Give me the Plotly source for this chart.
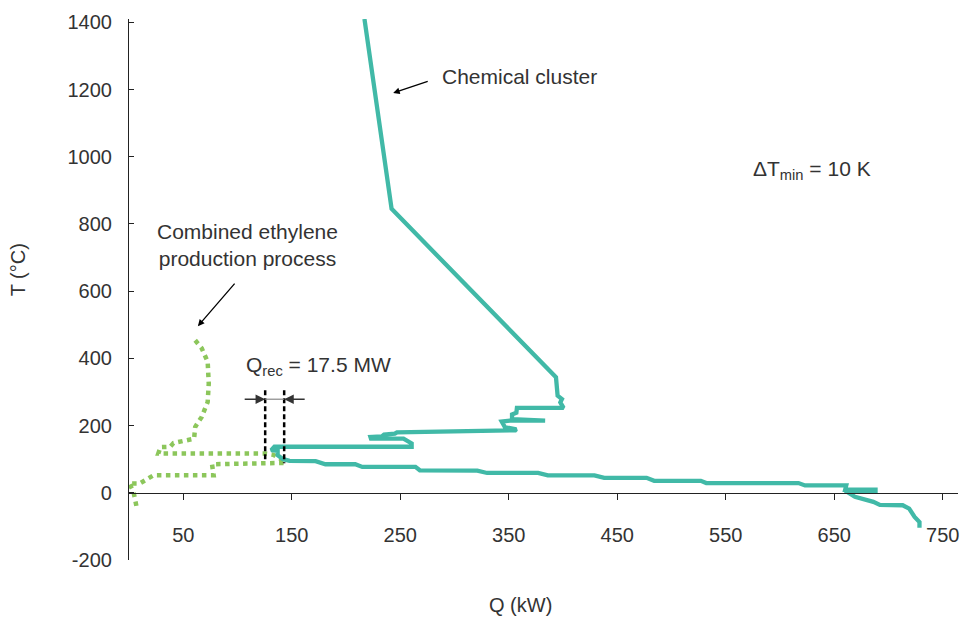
import plotly.graph_objects as go

# ---- data ----
cluster_q = [217, 242, 393.5, 395, 399, 397.5, 400.5, 357.5, 357, 353, 353, 383.5, 383.5, 351,
             343.5, 346.5, 357, 356, 303, 247, 245, 235, 233, 222.5, 223, 253, 260.5, 260.5,
             134, 131, 137, 137, 142, 148, 172, 181, 208.5, 215, 264, 268, 321, 330, 377, 386,
             429, 438, 477, 484, 527, 532, 617, 623, 661, 660, 688, 688, 660, 669, 686, 692,
             713, 719, 724, 728.5, 728.5]
cluster_t = [1410, 845, 344, 289, 279, 269, 253, 253, 238, 233, 219, 218, 215, 215,
             212, 195, 189, 186, 184, 180, 176, 173, 168, 166, 161, 161, 147, 137,
             137, 127, 125, 112, 100, 95, 94, 85, 85, 77, 77, 67, 66, 59, 59, 52,
             52, 44.5, 44.5, 35.5, 35.5, 29, 29, 22, 22, 9, 9, 6, 6, -12, -27, -36,
             -37, -47, -72, -87, -104]

ethylene_q = [61, 67, 72.5, 73.5, 72.5, 67, 61, 60, 41, 38, 29, 27, 125.5, 133, 140, 144,
              76.5, 78, 22.6, 10, 0, 4, 7]
ethylene_t = [454, 430, 390, 325, 270, 226, 196, 161, 148, 137, 136, 117, 117, 113, 100, 89,
              85, 52, 52, 28, 28, 5, -42]

qrec_bounds = [125.5, 143]       # Q at the two dashed markers
qrec_top = 305
qrec_bottom = [92, 88]
qrec_arrow_t = 278.5

x_ticks = [50, 150, 250, 350, 450, 550, 650, 750]
y_ticks = [-200, 0, 200, 400, 600, 800, 1000, 1200, 1400]

TEAL = "#41b9a7"
GREEN = "#8cc65b"
TXT = "#333333"
FONT = "Liberation Sans, Arial, sans-serif"
LBL = 21

fig = go.Figure()

fig.add_trace(go.Scatter(x=ethylene_q, y=ethylene_t, mode="lines",
                         line=dict(color=GREEN, width=4.5, dash="4.5px,4.5px"),
                         hoverinfo="skip", showlegend=False))
fig.add_trace(go.Scatter(x=cluster_q, y=cluster_t, mode="lines",
                         line=dict(color=TEAL, width=4.3),
                         hoverinfo="skip", showlegend=False))

# Q_rec dashed markers
for q, tb in zip(qrec_bounds, qrec_bottom):
    fig.add_trace(go.Scatter(x=[q, q], y=[qrec_top, tb], mode="lines",
                             line=dict(color="black", width=2.5, dash="5px,3px"),
                             hoverinfo="skip", showlegend=False))
fig.add_trace(go.Scatter(x=qrec_bounds, y=[qrec_arrow_t, qrec_arrow_t], mode="lines",
                         line=dict(color="#888888", width=1.2),
                         hoverinfo="skip", showlegend=False))

ann = []
# Q_rec arrows
ann.append(dict(x=qrec_bounds[0], y=qrec_arrow_t, ax=-22, ay=0, text="", showarrow=True,
                arrowhead=2, arrowsize=1.2, arrowwidth=1.6, arrowcolor=TXT))
ann.append(dict(x=qrec_bounds[1], y=qrec_arrow_t, ax=22, ay=0, text="", showarrow=True,
                arrowhead=2, arrowsize=1.2, arrowwidth=1.6, arrowcolor=TXT))
ann.append(dict(x=106, y=376, text="Q<sub>rec</sub> = 17.5 MW", showarrow=False,
                xanchor="left", yanchor="middle", font=dict(size=LBL, color=TXT, family=FONT)))

# Chemical cluster
ann.append(dict(x=243.5, y=1190, ax=36, ay=-12, text="", showarrow=True,
                arrowhead=2, arrowsize=1, arrowwidth=1.3, arrowcolor="black"))
ann.append(dict(x=287, y=1240, text="Chemical cluster", showarrow=False,
                xanchor="left", yanchor="middle", font=dict(size=LBL, color=TXT, family=FONT)))

# Combined ethylene production process
ann.append(dict(x=63.5, y=496, ax=38, ay=-44, text="", showarrow=True,
                arrowhead=2, arrowsize=1, arrowwidth=1.3, arrowcolor="black"))
ann.append(dict(x=109.5, y=737, text="Combined ethylene<br>production process", showarrow=False,
                xanchor="center", yanchor="middle", align="center",
                font=dict(size=LBL, color=TXT, family=FONT)))

# Delta T min
ann.append(dict(x=573, y=961, text="ΔT<sub>min</sub> = 10 K", showarrow=False,
                xanchor="left", yanchor="middle", font=dict(size=LBL, color=TXT, family=FONT)))

# axis titles
ann.append(dict(x=361, y=-0.084, xref="x", yref="paper", text="Q (kW)", showarrow=False,
                xanchor="center", yanchor="middle", font=dict(size=20, color=TXT, family=FONT)))
ann.append(dict(x=-0.1335, y=663, xref="paper", yref="y", text="T (°C)", showarrow=False,
                textangle=-90, xanchor="center", yanchor="middle",
                font=dict(size=20, color=TXT, family=FONT)))

y_min, y_max = -200, 1410
fig.update_layout(
    width=968, height=617,
    margin=dict(l=129, r=10, t=19, b=57),
    paper_bgcolor="white", plot_bgcolor="white",
    font=dict(family=FONT, size=20, color=TXT),
    annotations=ann,
    xaxis=dict(range=[0, 764], tickvals=x_ticks, ticktext=[str(v) for v in x_ticks],
               showgrid=False, zeroline=False, showline=True, linecolor="#222222", linewidth=1.2,
               ticks="outside", ticklen=6, tickcolor="#222222", tickwidth=1.2,
               anchor="free", position=(0 - y_min) / (y_max - y_min),
               ticklabelstandoff=18, tickfont=dict(size=20, color=TXT, family=FONT)),
    yaxis=dict(range=[y_min, y_max], tickvals=y_ticks, ticktext=[str(v) for v in y_ticks],
               showgrid=False, zeroline=False, showline=True, linecolor="#222222", linewidth=1.2,
               ticks="inside", ticklen=5, tickcolor="#222222", tickwidth=1.2,
               ticklabelstandoff=12, tickfont=dict(size=20, color=TXT, family=FONT)),
)

fig.write_html("out.html")
